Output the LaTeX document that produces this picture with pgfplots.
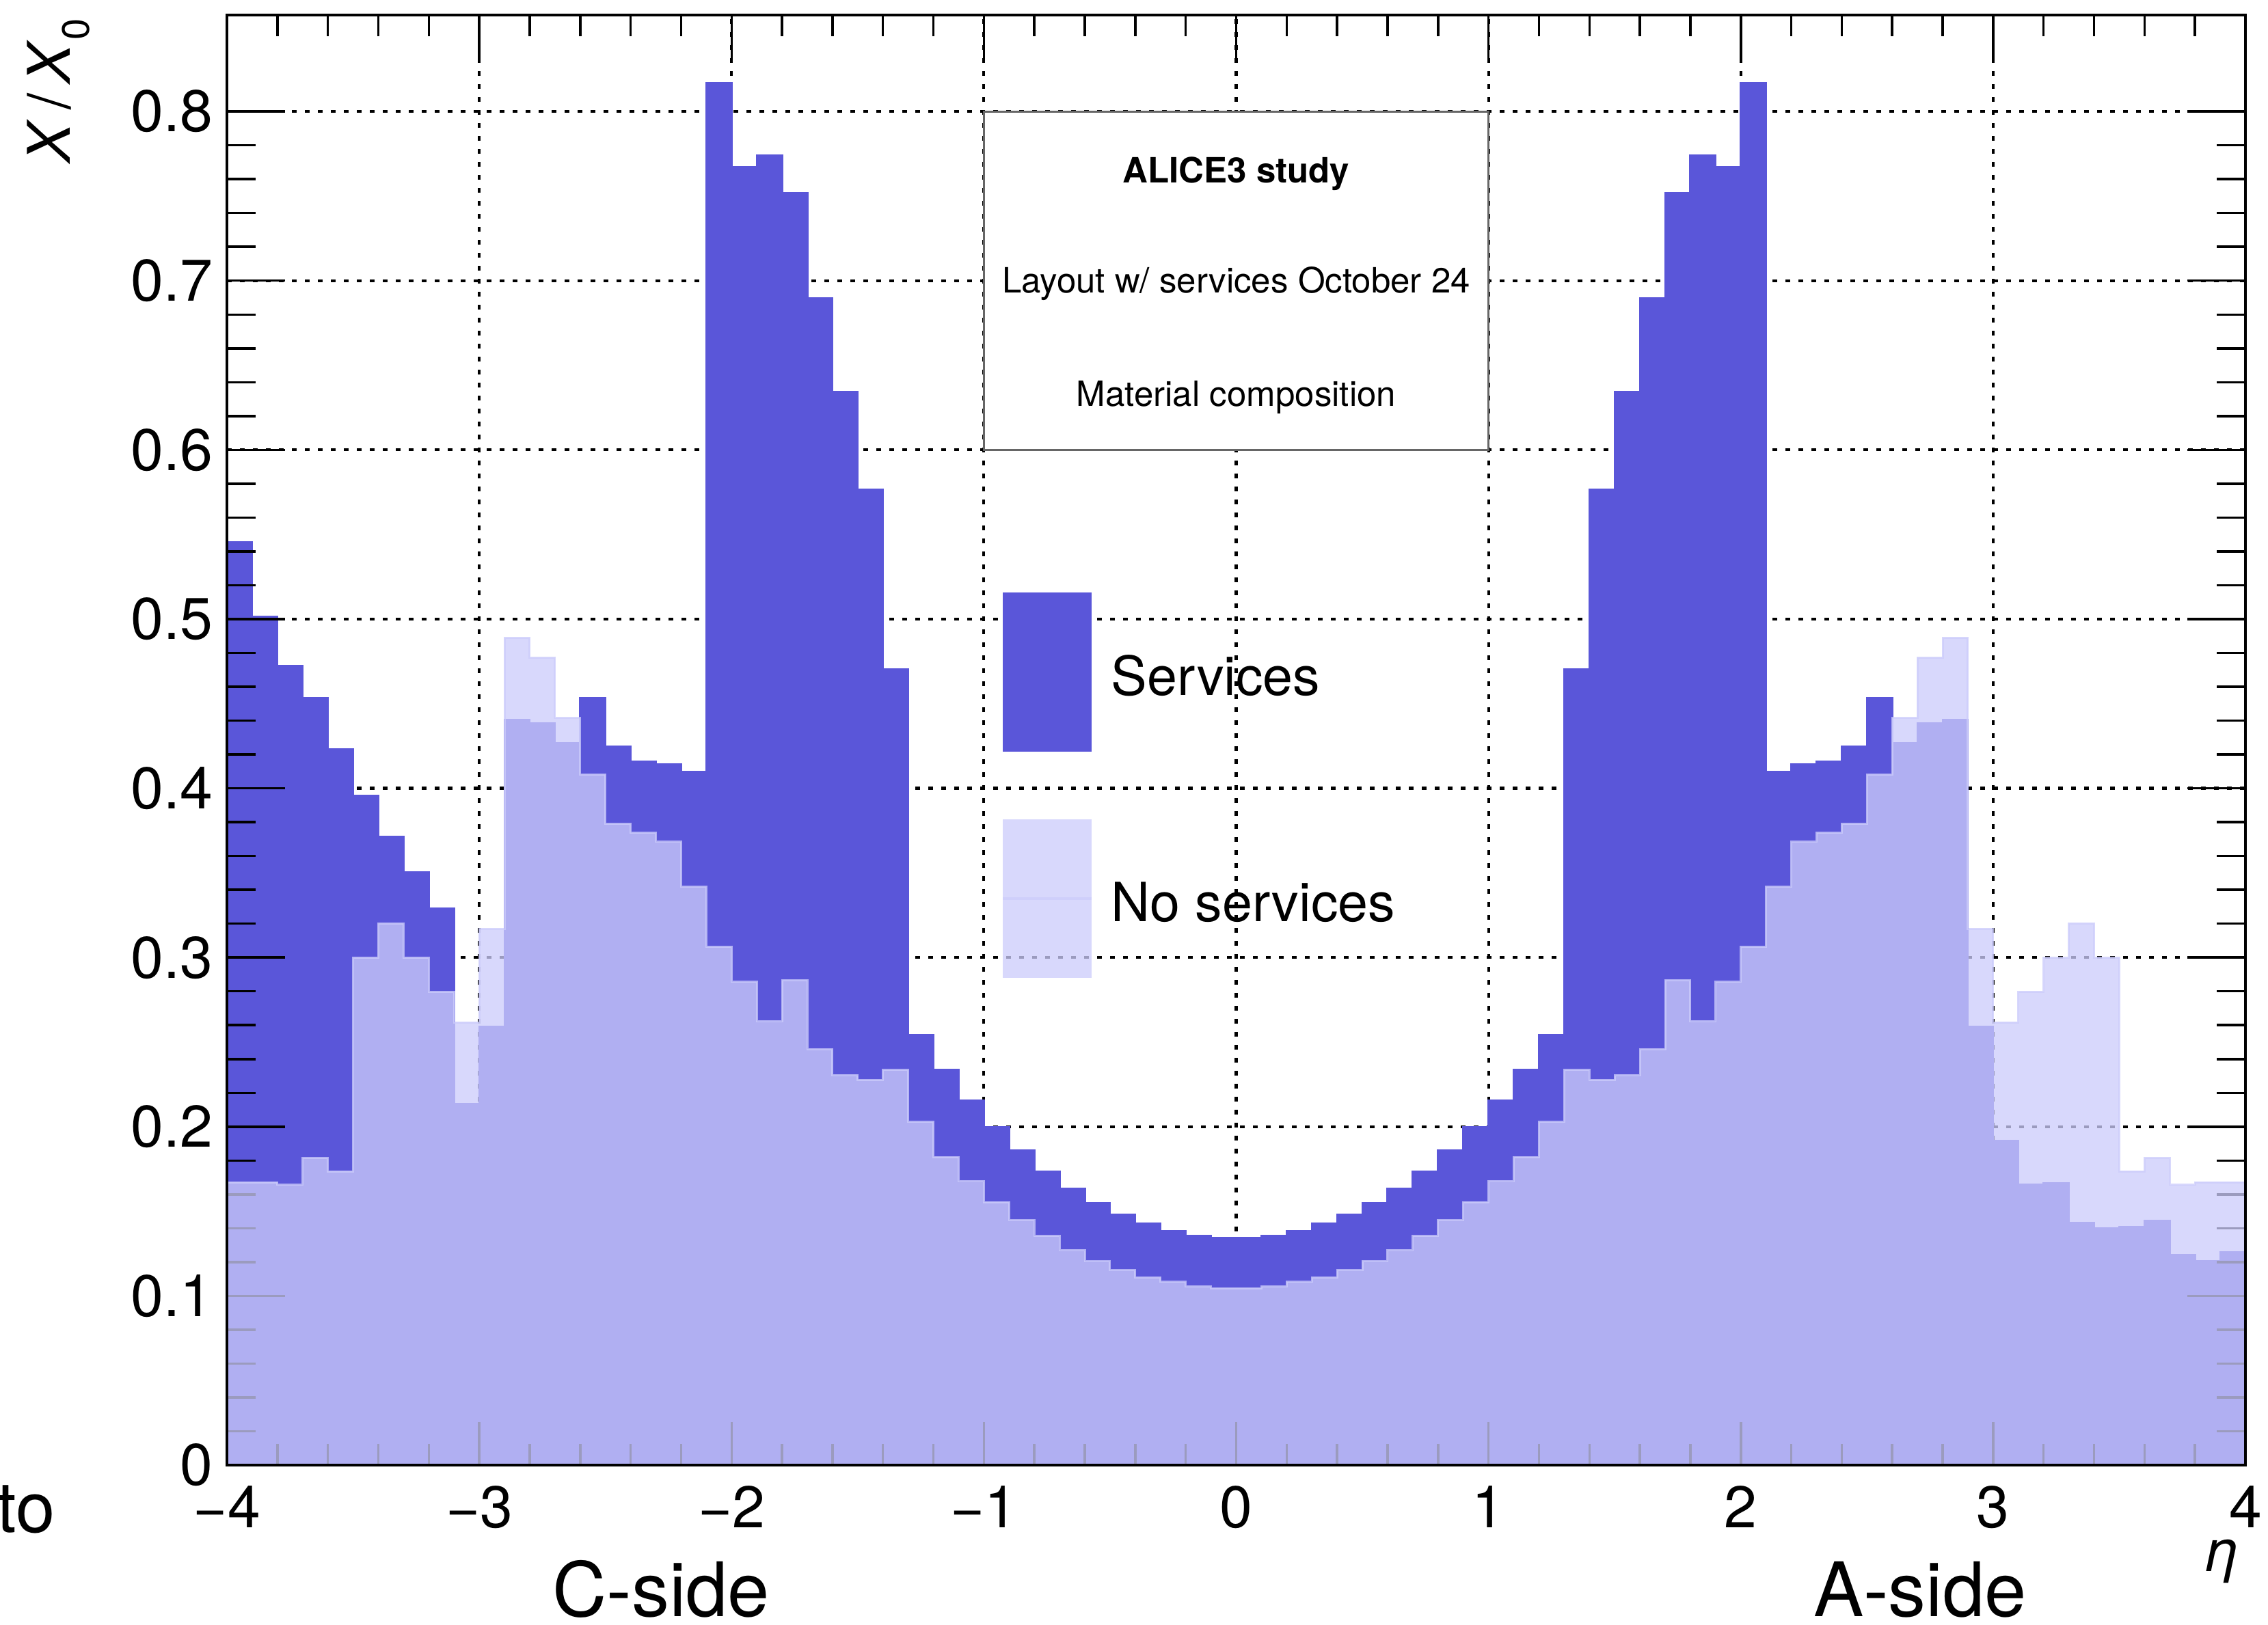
\documentclass[border=0pt]{standalone}
\usepackage{fontspec}
\setmainfont{TeX Gyre Heros}
\usepackage{pgfplots}
\usepackage{pgfplotstable}
\pgfplotsset{compat=1.18}
\definecolor{svc}{RGB}{90,86,217}
\definecolor{nos}{RGB}{204,204,251}
\definecolor{boxgray}{RGB}{102,102,102}
\pgfplotsset{
  layers/myorder/.define layer set={
    axis background,axis grid,pre main,axis ticks,main,axis lines,axis tick labels,axis descriptions,axis foreground
  }{/pgfplots/layers/standard},
}
\pgfplotstableread{
x s n
-4.0 0.5456 0.1672
-3.9 0.5016 0.1672
-3.8 0.4724 0.1656
-3.7 0.4533 0.1815
-3.6 0.4230 0.1736
-3.5 0.3954 0.2999
-3.4 0.3715 0.3201
-3.3 0.3503 0.2999
-3.2 0.3291 0.2797
-3.1 0.2134 0.2617
-3.0 0.2590 0.3169
-2.9 0.4406 0.4889
-2.8 0.4384 0.4772
-2.7 0.4268 0.4416
-2.6 0.4533 0.4082
-2.5 0.4246 0.3790
-2.4 0.4156 0.3737
-2.3 0.4140 0.3684
-2.2 0.4098 0.3418
-2.1 0.8169 0.3063
-2.0 0.7670 0.2856
-1.9 0.7739 0.2622
-1.8 0.7516 0.2866
-1.7 0.6895 0.2458
-1.6 0.6343 0.2304
-1.5 0.5764 0.2277
-1.4 0.4703 0.2335
-1.3 0.2542 0.2028
-1.2 0.2335 0.1821
-1.1 0.2155 0.1677
-1.0 0.1996 0.1555
-0.9 0.1858 0.1449
-0.8 0.1736 0.1354
-0.7 0.1635 0.1269
-0.6 0.1550 0.1205
-0.5 0.1481 0.1152
-0.4 0.1428 0.1109
-0.3 0.1385 0.1083
-0.2 0.1354 0.1056
-0.1 0.1343 0.1046
0.0 0.1343 0.1046
0.1 0.1354 0.1056
0.2 0.1385 0.1083
0.3 0.1428 0.1109
0.4 0.1481 0.1152
0.5 0.1550 0.1205
0.6 0.1635 0.1269
0.7 0.1736 0.1354
0.8 0.1858 0.1449
0.9 0.1996 0.1555
1.0 0.2155 0.1677
1.1 0.2335 0.1821
1.2 0.2542 0.2028
1.3 0.4703 0.2335
1.4 0.5764 0.2277
1.5 0.6343 0.2304
1.6 0.6895 0.2458
1.7 0.7516 0.2866
1.8 0.7739 0.2622
1.9 0.7670 0.2856
2.0 0.8169 0.3063
2.1 0.4098 0.3418
2.2 0.4140 0.3684
2.3 0.4156 0.3737
2.4 0.4246 0.3790
2.5 0.4533 0.4082
2.6 0.4268 0.4416
2.7 0.4384 0.4772
2.8 0.4406 0.4889
2.9 0.2590 0.3169
3.0 0.1916 0.2617
3.1 0.1656 0.2797
3.2 0.1667 0.2999
3.3 0.1433 0.3201
3.4 0.1401 0.2999
3.5 0.1406 0.1736
3.6 0.1444 0.1815
3.7 0.1242 0.1656
3.8 0.1205 0.1672
3.9 0.1258 0.1672
4.0 0.1258 0.1672
}\histdata
\begin{document}
\begin{tikzpicture}
\begin{axis}[
  name=ax,
  set layers=myorder,
  scale only axis,
  width=295.3pt, height=212.2pt,
  xmin=-4, xmax=4, ymin=0, ymax=0.857,
  xtick={-4,-3,-2,-1,0,1,2,3,4},
  xticklabels={−4,−3,−2,−1,0,1,2,3,4},
  ytick={0,0.1,0.2,0.3,0.4,0.5,0.6,0.7,0.8},
  yticklabels={0,0.1,0.2,0.3,0.4,0.5,0.6,0.7,0.8},
  minor x tick num=4, minor y tick num=4,
  tick align=inside, tick pos=both,
  xmajorgrids, ymajorgrids,
  major grid style={black, line width=0.42pt, dash pattern=on 0.7pt off 1.2pt},
  axis line style={black, line width=0.4pt},
  tick style={black, line width=0.35pt},
  xtick style={/pgfplots/major tick length=6.3pt, /pgfplots/minor tick length=3.1pt},
  ytick style={/pgfplots/major tick length=8.5pt, /pgfplots/minor tick length=4.2pt},
  xticklabel style={font=\fontsize{8.6}{10}\selectfont, inner sep=0pt, anchor=north, yshift=-2.8pt},
  yticklabel style={font=\fontsize{8.6}{10}\selectfont, inner sep=0pt, anchor=east, xshift=-1.9pt},
  clip=false,
]
\addplot[const plot mark left, on layer=pre main, fill=svc, draw=svc, line width=0.3pt]
  table[x=x, y=s]{\histdata} \closedcycle;
\addplot[const plot mark left, fill=nos, draw=nos, fill opacity=0.76, draw opacity=0.76, line width=0.3pt]
  table[x=x, y=n]{\histdata} \closedcycle;

% text box
\draw[boxgray, line width=0.3pt, fill=white] (axis cs:-1,0.6) rectangle (axis cs:1,0.8);
\node[anchor=base, inner sep=0pt, font=\fontsize{5.1}{6}\selectfont\bfseries] at (axis cs:0,0.758) {ALICE3 study};
\node[anchor=base, inner sep=0pt, font=\fontsize{5.1}{6}\selectfont] at (axis cs:0,0.693) {Layout w/ services October 24};
\node[anchor=base, inner sep=0pt, font=\fontsize{5.1}{6}\selectfont] at (axis cs:0,0.6256) {Material composition};

% legend
\fill[svc] (axis cs:-0.925,0.4216) rectangle (axis cs:-0.573,0.5157);
\fill[nos, fill opacity=0.76] (axis cs:-0.925,0.288) rectangle (axis cs:-0.573,0.3817);
\draw[nos, opacity=0.76, line width=0.4pt] (axis cs:-0.925,0.3349) -- (axis cs:-0.573,0.3349);
\node[anchor=base west, inner sep=0pt, font=\fontsize{7.9}{9}\selectfont] at (axis cs:-0.50,0.4548) {Services};
\node[anchor=base west, inner sep=0pt, font=\fontsize{7.9}{9}\selectfont] at (axis cs:-0.50,0.3211) {No services};

% axis titles and side labels
\node[rotate=90, anchor=base east, inner sep=0pt, font=\fontsize{8.6}{10}\selectfont] at (axis cs:-4.623,0.8558) {\textit{X}\,/\,\textit{X}\raisebox{-2.8pt}{\fontsize{5.6}{6}\selectfont 0}};
\node[anchor=center, inner sep=0pt, font=\fontsize{8.6}{10}\selectfont\itshape] at (axis cs:3.917,-0.057) {η};
\node[anchor=base, inner sep=0pt, font=\fontsize{11}{13}\selectfont] at (axis cs:-2.28,-0.0893) {C-side};
\node[anchor=base, inner sep=0pt, font=\fontsize{11}{13}\selectfont] at (axis cs:2.71,-0.0893) {A-side};
\node[anchor=base east, inner sep=0pt, font=\fontsize{10.3}{12}\selectfont] at (axis cs:-4.675,-0.0396) {to};
\end{axis}
\pgfresetboundingbox
\path[use as bounding box] ([shift={(-33.2pt,-23.3pt)}]ax.south west) rectangle ([shift={(3.3pt,2.2pt)}]ax.north east);
\end{tikzpicture}
\end{document}
